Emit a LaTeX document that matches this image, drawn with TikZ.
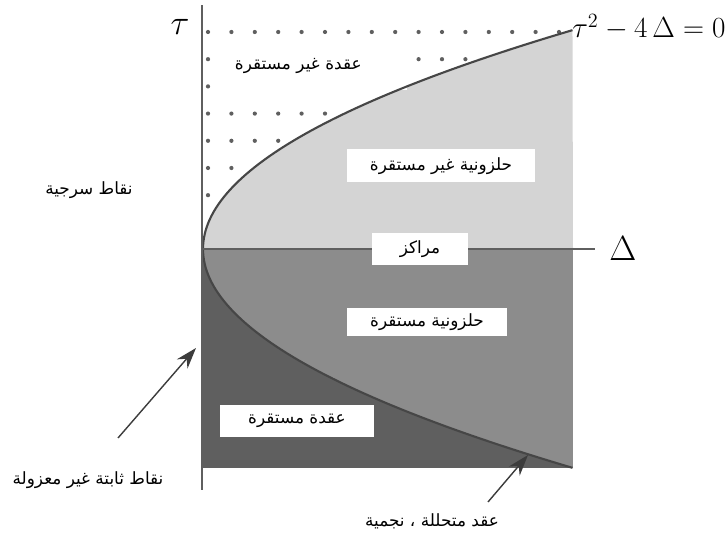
\documentclass[tikz,border=0pt]{standalone}
\usepackage{fontspec}
\usepackage{amsmath}
\usepackage{xcolor}
\newfontfamily\arabicfont[Script=Arabic]{DejaVu Sans}
\TeXXeTstate=1
\newcommand{\artext}[1]{\arabicfont\beginR #1\endR}
\definecolor{lightreg}{RGB}{212,212,212}
\definecolor{midreg}{RGB}{140,140,140}
\definecolor{darkreg}{RGB}{95,95,95}
\definecolor{curvegray}{RGB}{70,70,70}
\definecolor{axisgray}{RGB}{95,95,95}
\definecolor{arrowgray}{RGB}{60,60,60}
\usepackage{tikz}
\usetikzlibrary{
  arrows.meta,
  positioning,
  calc
}
\tikzset{
  arlabel/.style={font=\arabicfont\fontsize{12}{14}\selectfont, inner sep=2pt},
  whitebox/.style={fill=white, inner sep=0pt, align=center,
    minimum height=0.8cm, font=\arabicfont\fontsize{12}{14}\selectfont},
  axisline/.style={draw=axisgray, line width=1.3pt},
  curveline/.style={draw=curvegray, line width=1.5pt},
  arr/.style={-{Stealth[length=15pt, width=10pt]}, draw=arrowgray,
    fill=arrowgray, line width=1pt},
}

\begin{document}
\begin{tikzpicture}[x=0.025cm, y=-0.025cm,
  griddot/.style={fill=axisgray}
]
  \useasboundingbox (0,0) rectangle (725,536);

  % axes end points
  \coordinate (O) at (202,249);
  \coordinate (tautop) at (202,5);
  \coordinate (taubot) at (202,490);
  \coordinate (deltaend) at (595,249);

  % regions
  \fill[lightreg] (203,249)
    -- plot[domain=0:1, samples=60] ({203+370*\x*\x},{249-219*\x})
    -- (573,249) -- cycle;
  \fill[midreg] (203,249) rectangle (573,468);
  \fill[darkreg] (203,249)
    -- plot[domain=0:1, samples=60] ({203+370*\x*\x},{249+219*\x})
    -- (203,468) -- cycle;

  % dots above the parabola
  \foreach \j in {0,...,7}
    \foreach \i in {0,...,15} {
      \pgfmathsetmacro\dx{208+23.4*\i}
      \pgfmathsetmacro\dy{32+27.2*\j}
      \pgfmathtruncatemacro\ok{(\dx < 203+370*((249-\dy)/219)^2 - 3) ? 1 : 0}
      \ifnum\ok=1 \fill[griddot] (\dx,\dy) circle[radius=1.5pt];\fi
    }
  \node[whitebox, minimum width=4.6cm, minimum height=1.2cm,
    text width=4.0cm, align=left, inner xsep=0.3cm] (unstnode) at (315,66)
    {\artext{عقدة غير مستقرة}};

  % parabola tau^2 - 4 Delta = 0
  \draw[curveline] plot[domain=0:1, samples=60] ({203+370*\x*\x},{249-219*\x});
  \draw[curveline] plot[domain=0:1, samples=60] ({203+370*\x*\x},{249+219*\x});

  \draw[axisline] (taubot) -- (tautop);
  \draw[axisline] (O) -- (deltaend);

  \node[font=\fontsize{28}{30}\selectfont] (tau) at (180,27) {$\tau$};
  \node[font=\fontsize{32}{34}\selectfont] (delta) at (623,249) {$\Delta$};
  \node[anchor=west, font=\fontsize{20}{22}\selectfont, inner sep=0pt]
    (eq) at (572,27) {$\tau^2 - 4\,\Delta = 0$};

  % region labels
  \node[whitebox, minimum width=4.7cm, minimum height=0.825cm] (unstspiral)
    at (441,166) {\artext{حلزونية غير مستقرة}};
  \node[whitebox, minimum width=2.4cm] (centers) at (420,249)
    {\artext{مراكز}};
  \node[whitebox, minimum width=4.0cm, minimum height=0.7cm] (stspiral)
    at (427,322) {\artext{حلزونية مستقرة}};
  \node[whitebox, minimum width=3.825cm] (stnode) at (297,421)
    {\artext{عقدة مستقرة}};

  % Annotations
  \node[arlabel] (saddle) at (89,190) {\artext{نقاط سرجية}};
  \node[arlabel] (nonisol) at (88,480) {\artext{نقاط ثابتة غير معزولة}};
  \node[arlabel] (degen) at (432,521) {\artext{عقد متحللة ، نجمية}};

  \coordinate (nonisoltail) at (118,438);
  \coordinate (nonisoltip) at (196,348);
  \coordinate (degentail) at (488,502);
  \coordinate (degentip) at (528,455);
  \draw[arr] (nonisoltail) -- (nonisoltip);
  \draw[arr] (degentail) -- (degentip);
\end{tikzpicture}
\end{document}
